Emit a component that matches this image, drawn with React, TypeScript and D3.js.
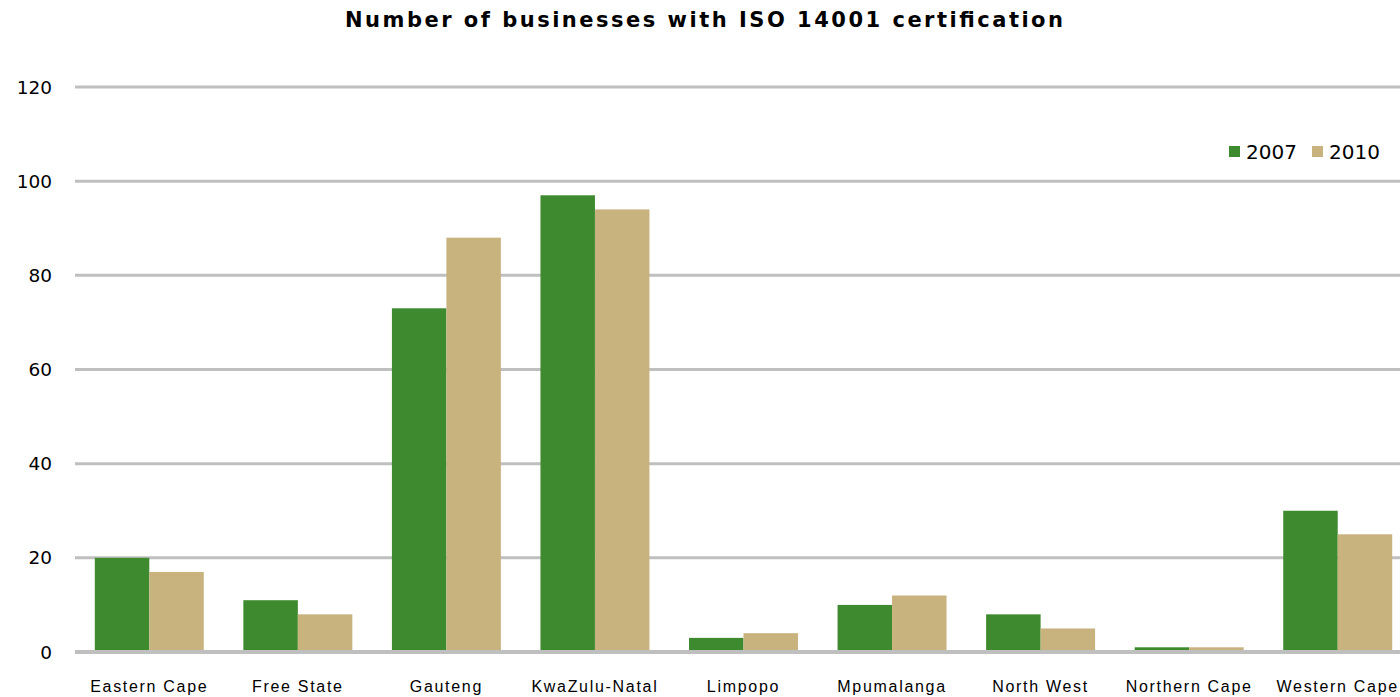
import React from "react";
import * as d3 from "d3";

const categories = ["Eastern Cape", "Free State", "Gauteng", "KwaZulu-Natal", "Limpopo", "Mpumalanga", "North West", "Northern Cape", "Western Cape"];
const values2007 = [20, 11, 73, 97, 3, 10, 8, 1, 30];
const values2010 = [17, 8, 88, 94, 4, 12, 5, 1, 25];
const seriesNames = ["2007", "2010"];
const yTicks = [0, 20, 40, 60, 80, 100, 120];
const title = "Number of businesses with ISO 14001 certification";

const W = 1400;
const H = 697;
const colors = ["#3e8a2f", "#c8b37f"];

export default function App() {
  const x = d3.scaleBand<string>().domain(categories).range([75, 1412]).paddingInner(0.2665).paddingOuter(0.1333);
  const x1 = d3.scaleBand<string>().domain(seriesNames).range([0, x.bandwidth()]).padding(0);
  const y = d3.scaleLinear().domain([0, 120]).range([652, 87]);
  const series = [values2007, values2010];

  return (
    <svg width={W} height={H} style={{ position: "absolute", left: 0, top: 0, background: "#fff" }}>
      <text x={704} y={27} textAnchor="middle" fontFamily="'DejaVu Sans', sans-serif" fontWeight="bold" fontSize={21} textLength={718} lengthAdjust="spacing">
        {title}
      </text>
      {yTicks.map((t) => (
        <g key={t}>
          <line x1={75} x2={W} y1={y(t)} y2={y(t)} stroke="#bfbfbf" strokeWidth={t === 0 ? 4 : 3} />
          <text x={52} y={y(t)} dy="0.36em" textAnchor="end" fontFamily="'DejaVu Sans', sans-serif" fontSize={18.5} fill="#000">
            {t}
          </text>
        </g>
      ))}
      {categories.map((c, i) => (
        <g key={c}>
          {series.map((vals, s) => (
            <rect
              key={s}
              x={(x(c) as number) + (x1(seriesNames[s]) as number)}
              y={y(vals[i])}
              width={x1.bandwidth()}
              height={y(0) - 2 - y(vals[i])}
              fill={colors[s]}
            />
          ))}
          <text x={(x(c) as number) + x.bandwidth() / 2} y={692} textAnchor="middle" fontFamily="'Liberation Sans', sans-serif" fontSize={16} letterSpacing={1.7} fill="#000">
            {c}
          </text>
        </g>
      ))}
      {seriesNames.map((n, s) => (
        <g key={n} transform={`translate(${1229 + s * 83},0)`}>
          <rect x={0} y={146} width={11} height={11} fill={colors[s]} />
          <text x={17} y={152} dy="0.36em" fontFamily="'DejaVu Sans', sans-serif" fontSize={20} fill="#000">
            {n}
          </text>
        </g>
      ))}
    </svg>
  );
}
